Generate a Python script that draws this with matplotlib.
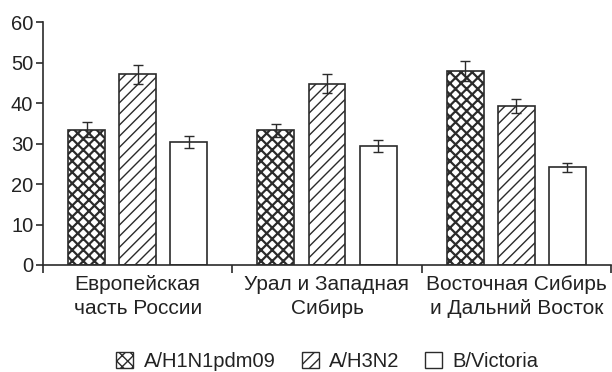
import numpy as np
import matplotlib
matplotlib.use('Agg')
import matplotlib.pyplot as plt
from matplotlib.patches import Patch

# --- Data ---
regions = ['Европейская\nчасть России', 'Урал и Западная\nСибирь', 'Восточная Сибирь\nи Дальний Восток']
series = ['A/H1N1pdm09', 'A/H3N2', 'B/Victoria']
h1n1 = [33.5, 33.3, 48.0]
h3n2 = [47.2, 44.9, 39.3]
bvic = [30.4, 29.5, 24.2]
h1n1_err = [1.8, 1.6, 2.4]
h3n2_err = [2.3, 2.3, 1.8]
bvic_err = [1.5, 1.5, 1.1]
yticks = [0, 10, 20, 30, 40, 50, 60]

INK = '#2b2b2b'
TXT = '#222222'
hatches = ['xxx', '///', '']

plt.rcParams['font.family'] = ['Liberation Sans', 'DejaVu Sans']
plt.rcParams['hatch.color'] = INK

fig = plt.figure(figsize=(6.12, 3.72), dpi=100)
ax = fig.add_axes([43 / 612, 107 / 372, 568 / 612, 242.5 / 372])

x = np.arange(len(regions))
width = 0.195
offset = 0.27

values = [h1n1, h3n2, bvic]
errors = [h1n1_err, h3n2_err, bvic_err]
hatch_lw = [1.6, 1.0, 1.0]
for i, (vals, errs) in enumerate(zip(values, errors)):
    plt.rcParams['hatch.linewidth'] = hatch_lw[i]
    ax.bar(x + (i - 1) * offset, vals, width, color='white', edgecolor=INK,
           linewidth=1.2, hatch=hatches[i], label=series[i], zorder=2)
    ax.errorbar(x + (i - 1) * offset, vals, yerr=errs, fmt='none', ecolor=INK,
                elinewidth=1.0, capsize=3.5, capthick=1.0, zorder=3)

ax.set_xlim(-0.5, 2.5)
ax.set_ylim(0, 60)
ax.set_yticks(yticks)
ax.tick_params(axis='y', direction='out', length=5, width=1.2, color=INK,
               labelsize=14.5, labelcolor=TXT, pad=2)

# group boundaries as major ticks, region names as minor tick labels
ax.set_xticks([-0.5, 0.5, 1.5, 2.5])
ax.set_xticklabels([])
ax.tick_params(axis='x', which='major', direction='out', length=6, width=1.2, color=INK)
ax.set_xticks(x, minor=True)
ax.set_xticklabels(regions, minor=True, fontsize=15, color=TXT, linespacing=1.38)
ax.tick_params(axis='x', which='minor', length=0, pad=7)

for side in ['top', 'right']:
    ax.spines[side].set_visible(False)
for side in ['left', 'bottom']:
    ax.spines[side].set_color(INK)
    ax.spines[side].set_linewidth(1.2)

handles = [Patch(facecolor='white', edgecolor=INK, hatch=hatches[i], linewidth=1.0)
           for i in range(3)]
fig.legend(handles, series, loc='lower center', bbox_to_anchor=(0.535, -0.045), ncol=3,
           frameon=False, fontsize=14.5, handlelength=0.85, handleheight=0.85,
           handletextpad=0.5, columnspacing=1.3, labelcolor=TXT)

fig.savefig('out.png', dpi=100)
